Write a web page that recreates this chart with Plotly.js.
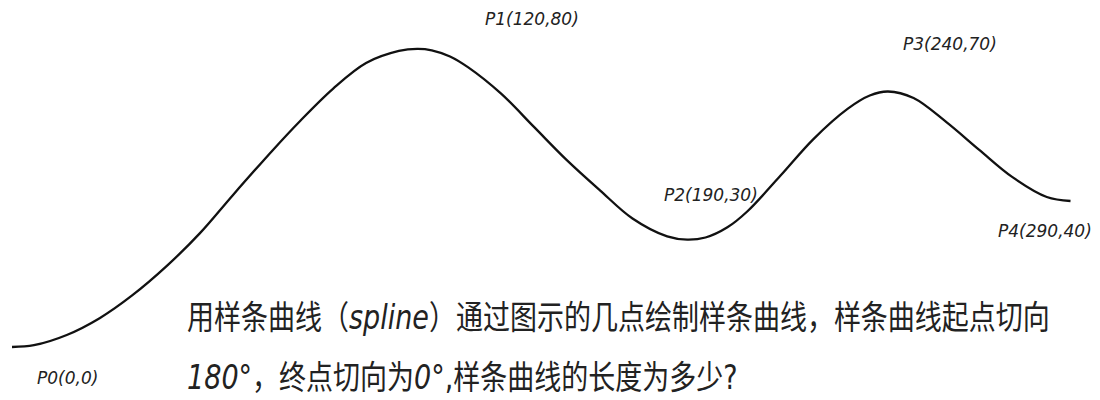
<!DOCTYPE html>
<html>
<head>
<meta charset="utf-8">
<script src="https://cdn.plot.ly/plotly-3.0.1.min.js"></script>
<style>
  html, body { margin: 0; padding: 0; background: #ffffff; }
  #chart { width: 1100px; height: 400px; }
  .stretch-cjk { transform-box: fill-box; transform-origin: center; transform: scaleY(1.22); }
</style>
</head>
<body>
<div id="chart"></div>
<script>
// Named key points of the spline (labels in the drawing)
const pointNames = ['P0', 'P1', 'P2', 'P3', 'P4'];
const pointX = [0, 120, 190, 240, 290];
const pointY = [0, 80, 30, 70, 40];

// Spline curve, values (drawing units)
const curveX = [0, 6, 15, 24, 33, 42.5, 51.5, 60.5, 71.5, 79, 88, 97, 106, 111, 115, 120, 125, 134, 143, 152, 161, 170, 179.5, 185, 190, 196, 201.5, 210.5, 219.5, 229, 235, 240, 247, 256, 265, 274, 283.5, 290];
const curveY = [0, 0.5, 3.3, 7.9, 14.2, 22.3, 31.2, 41.6, 54, 62, 70.8, 77.8, 81.1, 81.7, 81.3, 79.6, 76.6, 69.4, 60.3, 51.2, 43, 35.2, 30.3, 29.4, 30, 32.8, 37.2, 46.9, 56.9, 65.3, 68.9, 70, 68.2, 61.6, 54, 46.6, 41.1, 40];

// Question text (two lines)
const questionLine1 = '用样条曲线（<i>spline</i>）通过图示的几点绘制样条曲线，样条曲线起点切向';
const questionLine2 = '<i>180°</i>，终点切向为<i>0°</i>,样条曲线的长度为多少?';

// Label offsets in pixels (style only)
const labelShiftX = [55, 82, 5, 62, -26];
const labelShiftY = [-31, 36, 43, 48, -30];

const labelFont = { family: 'DejaVu Sans, Noto Sans CJK SC, sans-serif', size: 17, color: '#222' };
const textFont = { family: 'DejaVu Sans, Noto Sans CJK SC, sans-serif', size: 27, color: '#222' };

const annotations = pointNames.map((n, i) => ({
  x: pointX[i], y: pointY[i], xref: 'x', yref: 'y',
  text: '<i>' + n + '(' + pointX[i] + ',' + pointY[i] + ')</i>',
  showarrow: false, xanchor: 'center', yanchor: 'middle',
  xshift: labelShiftX[i], yshift: labelShiftY[i],
  font: labelFont
}));
annotations.push({
  x: 185 / 1100, y: 1 - 317 / 400, xref: 'paper', yref: 'paper',
  text: questionLine1, showarrow: false, xanchor: 'left', yanchor: 'middle', font: textFont
});
annotations.push({
  x: 185 / 1100, y: 1 - 377 / 400, xref: 'paper', yref: 'paper',
  text: questionLine2, showarrow: false, xanchor: 'left', yanchor: 'middle', font: textFont
});

const traces = [{
  type: 'scatter', mode: 'lines',
  x: curveX, y: curveY,
  line: { color: '#111', width: 2.3, shape: 'spline', smoothing: 1 },
  hoverinfo: 'skip'
}];

const layout = {
  width: 1100, height: 400,
  margin: { l: 0, r: 0, t: 0, b: 0, pad: 0 },
  paper_bgcolor: '#ffffff', plot_bgcolor: '#ffffff',
  showlegend: false,
  xaxis: { range: [-3.29, 298.08], visible: false, showgrid: false, zeroline: false, fixedrange: true },
  yaxis: { range: [-14.52, 95.07], visible: false, showgrid: false, zeroline: false, fixedrange: true },
  annotations: annotations
};

Plotly.newPlot('chart', traces, layout, { staticPlot: true, displayModeBar: false }).then(() => {
  const texts = document.querySelectorAll('#chart .annotation-text');
  texts.forEach((t, i) => { if (i >= pointNames.length) t.classList.add('stretch-cjk'); });
});
</script>
</body>
</html>
